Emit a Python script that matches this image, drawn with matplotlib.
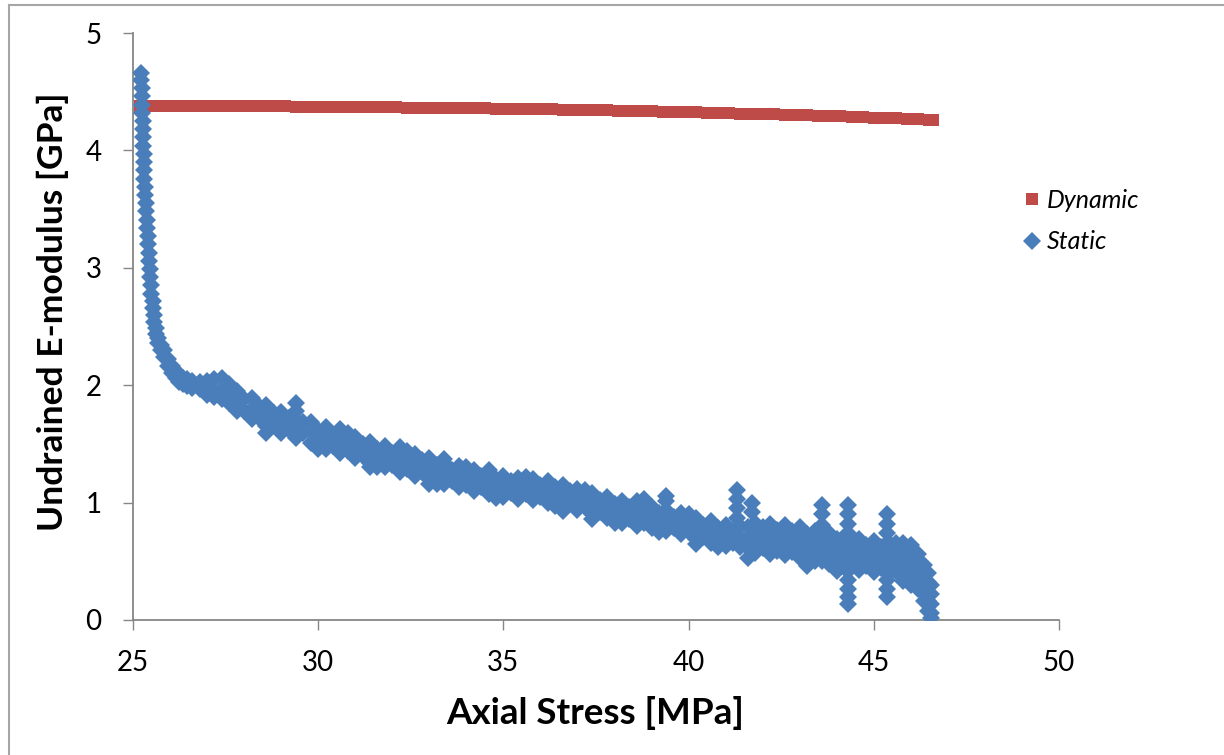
import matplotlib
matplotlib.use("Agg")
import matplotlib.pyplot as plt
from matplotlib.lines import Line2D

# ---------------- data ----------------
dynamic_stress = [25.2, 25.5, 25.8, 26.1, 26.4, 26.7, 27.0, 27.3, 27.6, 27.9, 28.2, 28.5, 28.8,
                  29.1, 29.4, 29.7, 30.0, 30.3, 30.6, 30.9, 31.2, 31.5, 31.8, 32.1, 32.4, 32.7,
                  33.0, 33.3, 33.6, 33.9, 34.2, 34.5, 34.8, 35.1, 35.4, 35.7, 36.0, 36.3, 36.6,
                  36.9, 37.2, 37.5, 37.8, 38.1, 38.4, 38.7, 39.0, 39.3, 39.6, 39.9, 40.2, 40.5,
                  40.8, 41.1, 41.4, 41.7, 42.0, 42.3, 42.6, 42.9, 43.2, 43.5, 43.8, 44.1, 44.4,
                  44.7, 45.0, 45.3, 45.6, 45.9, 46.2, 46.5, 46.6]
dynamic_modulus = [4.380, 4.380, 4.380, 4.379, 4.379, 4.378, 4.378, 4.377, 4.377, 4.376, 4.376, 4.375, 4.375,
                   4.374, 4.373, 4.373, 4.372, 4.371, 4.371, 4.370, 4.369, 4.368, 4.367, 4.366, 4.365, 4.364,
                   4.363, 4.362, 4.361, 4.360, 4.359, 4.357, 4.356, 4.355, 4.353, 4.352, 4.350, 4.349, 4.347,
                   4.346, 4.344, 4.342, 4.340, 4.338, 4.336, 4.334, 4.332, 4.330, 4.328, 4.326, 4.324, 4.321,
                   4.319, 4.317, 4.314, 4.312, 4.309, 4.306, 4.304, 4.301, 4.298, 4.296, 4.293, 4.290, 4.287,
                   4.284, 4.280, 4.277, 4.273, 4.269, 4.265, 4.261, 4.259]

# Static series: stress positions, each with the modulus readings found at that stress
static_stress_cols = [
    25.22, 25.23, 25.24, 25.26, 25.27, 25.29, 25.31, 25.33, 25.35, 25.38, 25.40, 25.43, 25.46,
    25.49, 25.53, 25.57, 25.62, 25.68, 25.76, 25.85, 25.95, 26.05, 26.15, 26.25, 26.35, 26.45,
    26.6, 26.8, 27.0, 27.2, 27.4, 27.6, 27.8, 28.0, 28.2, 28.4, 28.6, 28.8, 29.0, 29.2, 29.4,
    29.6, 29.8, 30.0, 30.2, 30.4, 30.6, 30.8, 31.0, 31.2, 31.4, 31.6, 31.8, 32.0, 32.2, 32.4,
    32.6, 32.8, 33.0, 33.2, 33.4, 33.6, 33.8, 34.0, 34.2, 34.4, 34.6, 34.8, 35.0, 35.2, 35.4,
    35.6, 35.8, 36.0, 36.2, 36.4, 36.6, 36.8, 37.0, 37.2, 37.4, 37.6, 37.8, 38.0, 38.2, 38.4,
    38.6, 38.8, 39.0, 39.2, 39.4, 39.6, 39.8, 40.0, 40.2, 40.4, 40.6, 40.8, 41.0, 41.2, 41.3,
    41.4, 41.6, 41.7, 41.8, 42.0, 42.2, 42.4, 42.6, 42.8, 43.0, 43.2, 43.4, 43.6, 43.8, 44.0,
    44.2, 44.3, 44.4, 44.6, 44.8, 45.0, 45.2, 45.35, 45.4, 45.6, 45.8, 46.0, 46.2, 46.35,
    46.45, 46.55]
static_modulus_cols = [
    [4.66, 4.60], [4.53, 4.46], [4.39, 4.32], [4.25, 4.18], [4.11, 4.04], [3.97, 3.90],
    [3.83, 3.76], [3.69, 3.62], [3.55, 3.48], [3.41, 3.34], [3.27, 3.20], [3.13, 3.06],
    [2.99, 2.92], [2.85, 2.78], [2.72, 2.66], [2.60, 2.54], [2.49, 2.44], [2.40, 2.36],
    [2.34, 2.30], [2.30, 2.24], [2.22, 2.16], [2.16, 2.10], [2.12, 2.06], [2.08, 2.03],
    [2.06, 2.01], [2.05, 1.99],
    [2.04, 1.98], [2.03, 1.97], [2.04, 1.97, 1.92], [2.05, 1.96, 1.90], [2.06, 1.97, 1.88],
    [2.01, 1.93, 1.85], [1.95, 1.86, 1.78], [1.88, 1.78], [1.89, 1.80, 1.71], [1.82, 1.72],
    [1.83, 1.74, 1.65, 1.59], [1.76, 1.66], [1.77, 1.68, 1.59], [1.72, 1.62],
    [1.85, 1.78, 1.70, 1.62, 1.55], [1.69, 1.59], [1.69, 1.60, 1.51], [1.62, 1.52, 1.46],
    [1.64, 1.55, 1.46], [1.58, 1.48], [1.63, 1.60, 1.51, 1.42], [1.59, 1.54, 1.44],
    [1.56, 1.47, 1.38], [1.50, 1.40], [1.52, 1.43, 1.34, 1.30], [1.46, 1.36, 1.30],
    [1.48, 1.39, 1.30], [1.42, 1.32], [1.47, 1.44, 1.35, 1.26], [1.44, 1.39, 1.29],
    [1.41, 1.32, 1.23], [1.36, 1.26], [1.38, 1.29, 1.20, 1.16], [1.32, 1.22, 1.16],
    [1.37, 1.34, 1.25, 1.16], [1.28, 1.18], [1.31, 1.22, 1.13], [1.30, 1.25, 1.15],
    [1.28, 1.19, 1.10], [1.23, 1.13], [1.28, 1.25, 1.16, 1.07], [1.20, 1.10, 1.04],
    [1.23, 1.14, 1.05], [1.18, 1.08], [1.21, 1.12, 1.03], [1.22, 1.17, 1.07],
    [1.20, 1.11, 1.02], [1.15, 1.05], [1.18, 1.09, 1.00], [1.13, 1.03, 0.97],
    [1.15, 1.06, 0.97, 0.93], [1.10, 1.00], [1.12, 1.03, 0.94], [1.11, 1.06, 0.96],
    [1.08, 0.99, 0.90, 0.86], [1.02, 0.92], [1.05, 0.96, 0.87], [0.99, 0.89, 0.83],
    [1.01, 0.92, 0.83], [0.96, 0.86], [1.01, 0.98, 0.89, 0.80], [1.03, 0.98, 0.93, 0.83],
    [0.96, 0.87, 0.78], [0.91, 0.81, 0.75], [1.06, 1.01, 0.94, 0.85, 0.76], [0.88, 0.78],
    [0.91, 0.82, 0.73], [0.90, 0.85, 0.75], [0.87, 0.78, 0.69, 0.65], [0.81, 0.71],
    [0.84, 0.75, 0.66], [0.78, 0.68, 0.62], [0.81, 0.72, 0.63], [0.76, 0.66],
    [1.11, 1.03, 0.95, 0.87],
    [0.80, 0.71, 0.62], [0.79, 0.70, 0.61, 0.53], [1.00, 0.92], [0.83, 0.75, 0.66, 0.57],
    [0.79, 0.70, 0.61], [0.82, 0.73, 0.65, 0.56], [0.77, 0.68, 0.59], [0.81, 0.72, 0.64, 0.55],
    [0.76, 0.67, 0.58], [0.79, 0.70, 0.62, 0.53], [0.73, 0.64, 0.55, 0.46],
    [0.76, 0.67, 0.59, 0.50], [0.98, 0.90, 0.81, 0.73, 0.66, 0.58, 0.50], [0.74, 0.65, 0.57, 0.48],
    [0.69, 0.60, 0.51, 0.42], [0.71, 0.62, 0.54, 0.45],
    [0.98, 0.90, 0.82, 0.74, 0.66, 0.58, 0.50, 0.42, 0.34, 0.26, 0.20, 0.14],
    [0.66, 0.57, 0.48], [0.69, 0.60, 0.52, 0.43], [0.64, 0.55, 0.46], [0.67, 0.58, 0.50, 0.41],
    [0.62, 0.53, 0.44], [0.90, 0.82, 0.74, 0.66, 0.58, 0.50, 0.42, 0.34, 0.26, 0.20],
    [0.66, 0.57, 0.49, 0.40], [0.66, 0.59, 0.50, 0.42], [0.66, 0.57, 0.49, 0.40, 0.33],
    [0.64, 0.56, 0.47, 0.38, 0.30], [0.56, 0.48, 0.40, 0.32, 0.26], [0.47, 0.39, 0.31, 0.23, 0.16],
    [0.40, 0.32, 0.24, 0.16, 0.08], [0.30, 0.22, 0.14, 0.06, 0.02]]

static_stress = [x for x, ys in zip(static_stress_cols, static_modulus_cols) for _ in ys]
static_modulus = [y for ys in static_modulus_cols for y in ys]

x_ticks = [25, 30, 35, 40, 45, 50]
y_ticks = [0, 1, 2, 3, 4, 5]
series_names = ["Dynamic", "Static"]

# ---------------- style ----------------
RED = "#BE4B48"
BLUE = "#4A7EBB"
GRID = "#868686"
plt.rcParams["font.family"] = ["Lato", "DejaVu Sans"]

W, H = 1224, 755
fig = plt.figure(figsize=(W / 100, H / 100), dpi=100)
fig.patch.set_facecolor("white")

ax = fig.add_axes([133 / W, 1 - 620 / H, (1059 - 133) / W, (620 - 33) / H])

SQ_MS = 9.0
DI_MS = 9.4
ax.plot(dynamic_stress, dynamic_modulus, linestyle="none", marker="s", ms=SQ_MS,
        mew=0, color=RED, label=series_names[0], zorder=2)
ax.plot(static_stress, static_modulus, linestyle="none", marker="D", ms=DI_MS,
        mew=0, color=BLUE, label=series_names[1], zorder=3)

ax.set_xlim(25, 50)
ax.set_ylim(0, 5)
ax.set_xticks(x_ticks)
ax.set_yticks(y_ticks)
ax.set_xticklabels([str(v) for v in x_ticks])
ax.set_yticklabels([str(v) for v in y_ticks])

for s in ["top", "right"]:
    ax.spines[s].set_visible(False)
for s in ["left", "bottom"]:
    ax.spines[s].set_color(GRID)
    ax.spines[s].set_linewidth(1.3)
ax.tick_params(axis="both", direction="out", length=7.5, width=1.0, color=GRID,
               labelsize=20, labelcolor="black")
ax.tick_params(axis="x", pad=14)
ax.tick_params(axis="y", pad=15)

ax.set_xlabel("Axial Stress [MPa]", fontsize=26.5, fontweight="bold")
ax.set_ylabel("Undrained E-modulus [GPa]", fontsize=25.5, fontweight="bold")
ax.xaxis.set_label_coords((595 - 133) / (1059 - 133), (620 - 713) / (620 - 33))
ax.yaxis.set_label_coords((53 - 133) / (1059 - 133), (620 - 312) / (620 - 33))
ax.xaxis.label.set_va("center")
ax.yaxis.label.set_va("center")

handles = [Line2D([], [], linestyle="none", marker="s", ms=SQ_MS, mew=0, color=RED),
           Line2D([], [], linestyle="none", marker="D", ms=DI_MS, mew=0, color=BLUE)]
leg = fig.legend(handles, series_names, loc="center left",
                 bbox_to_anchor=(1011 / W, 1 - 221 / H), frameon=False,
                 prop={"size": 18, "style": "italic"}, handlelength=0.7,
                 handletextpad=0.25, labelspacing=0.75, borderpad=0)

# outer chart border (cropped on right and bottom)
fig.add_artist(Line2D([8.5 / W, 8.5 / W], [0, 1 - 5 / H], color="#A6A6A6", lw=1.5))
fig.add_artist(Line2D([8.5 / W, 1], [1 - 5 / H, 1 - 5 / H], color="#A6A6A6", lw=1.5))

fig.savefig("out.png", dpi=100, facecolor="white")
